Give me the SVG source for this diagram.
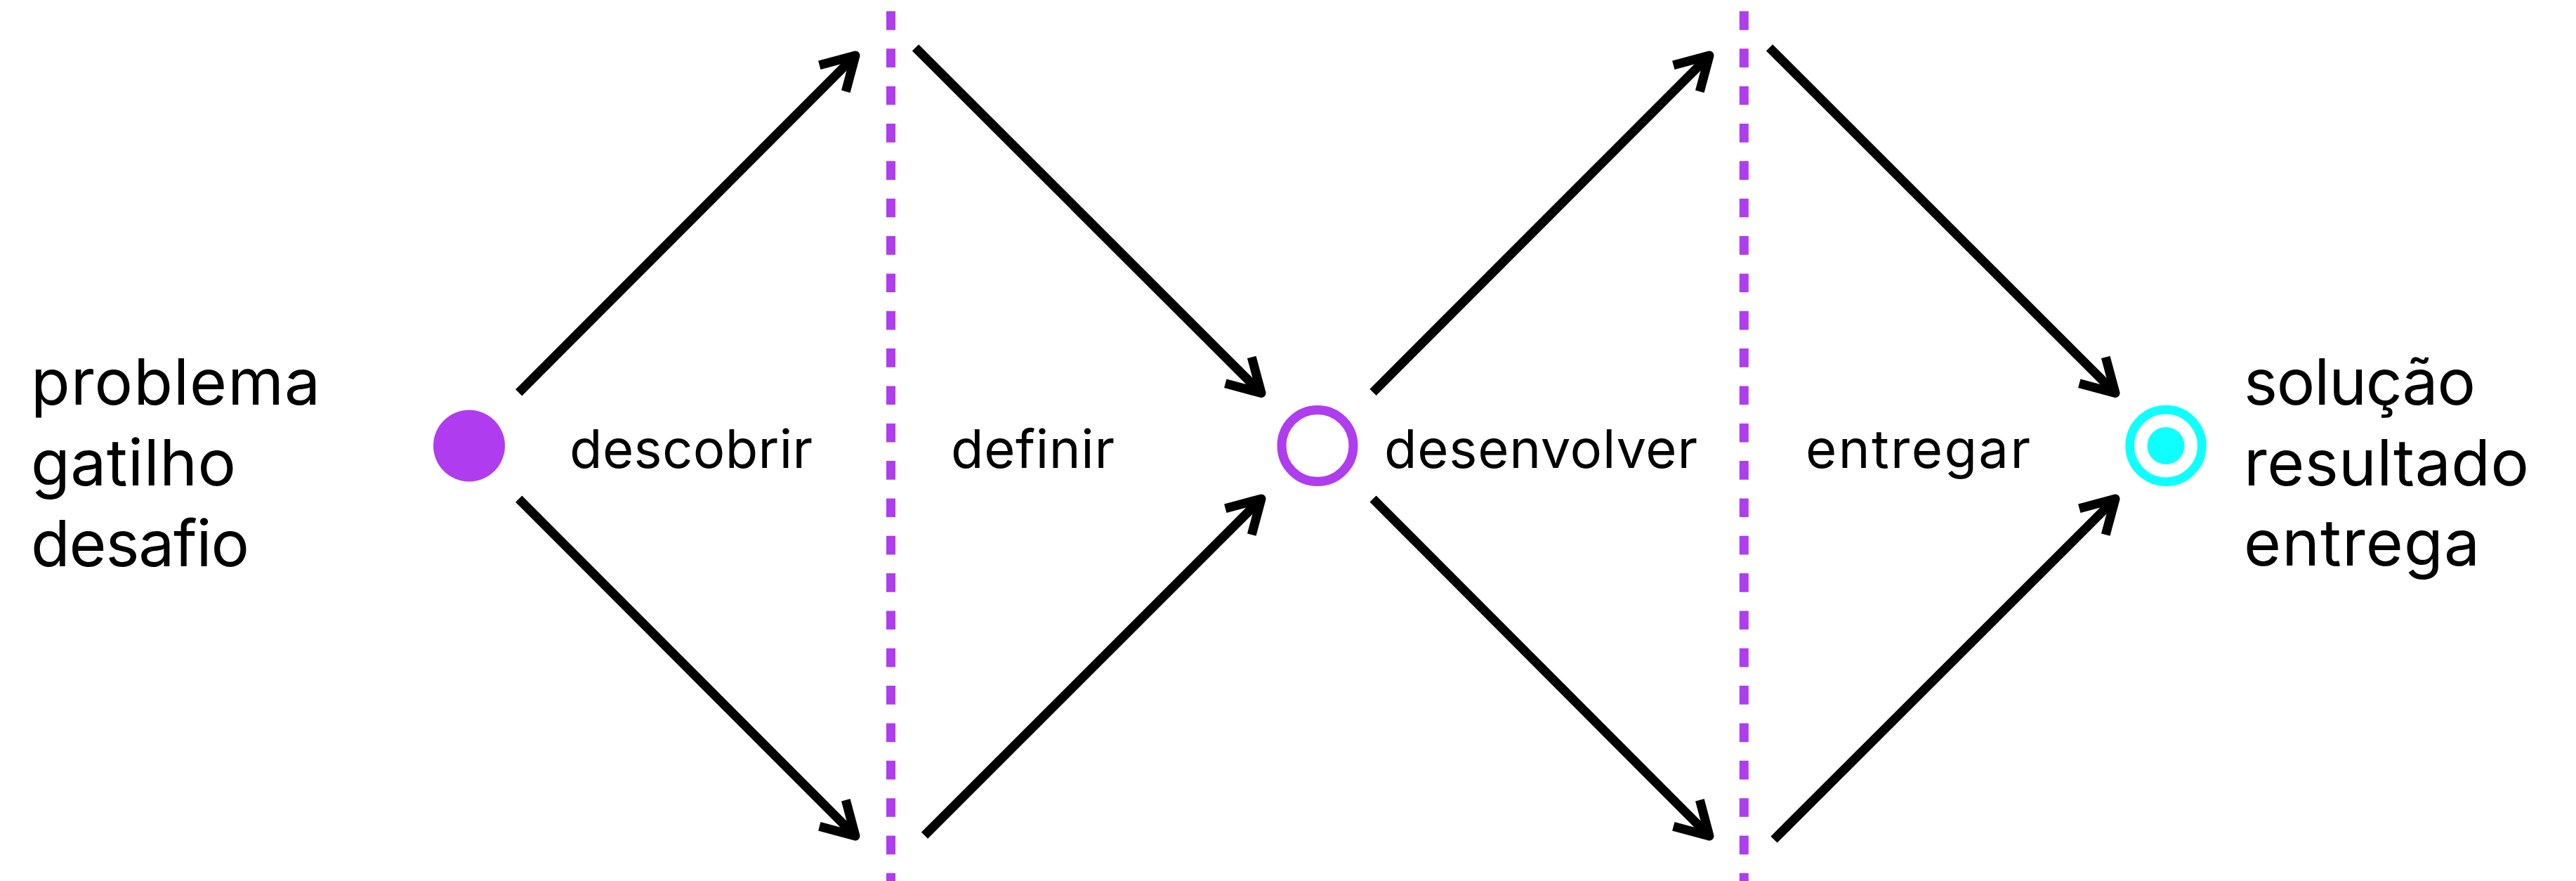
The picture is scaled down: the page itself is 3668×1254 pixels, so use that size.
<svg xmlns="http://www.w3.org/2000/svg" width="3668" height="1254" viewBox="0 0 3668 1254">
<style>
.bg{fill:#ffffff}
.edge{stroke:#000000;stroke-width:13;fill:none;stroke-linecap:butt}
.divider{stroke:#AF3DEF;stroke-width:13;stroke-dasharray:26.67 26.67;fill:none}
.big{font-family:Inter,"Noto Sans","DejaVu Sans",sans-serif;font-size:91px;fill:#000000}
.mid{font-family:Inter,"Noto Sans","DejaVu Sans",sans-serif;font-size:76px;fill:#000000}
</style>
<defs>
<marker id="arrow" markerUnits="userSpaceOnUse" orient="auto" refX="0" refY="0" markerWidth="1" markerHeight="1" overflow="visible">
<path d="M-45.9,-26.5 L0,0 L-45.9,26.5" fill="none" stroke="#000000" stroke-width="13" stroke-linejoin="round" stroke-linecap="butt"/>
</marker>
</defs>
<rect class="bg" x="0" y="0" width="3668" height="1254"/>
<g id="dividers">
<line class="divider" x1="1268.5" y1="16" x2="1268.5" y2="1270"/>
<line class="divider" x1="2483.3" y1="16" x2="2483.3" y2="1270"/>
</g>
<g id="connectors">
<line class="edge" x1="738.7" y1="558.8" x2="1218" y2="79" marker-end="url(#arrow)"/>
<line class="edge" x1="738.7" y1="710.2" x2="1218" y2="1190" marker-end="url(#arrow)"/>
<line class="edge" x1="1303.5" y1="67.8" x2="1796" y2="559.5" marker-end="url(#arrow)"/>
<line class="edge" x1="1316.5" y1="1189.2" x2="1796" y2="710" marker-end="url(#arrow)"/>
<line class="edge" x1="1955" y1="558.3" x2="2434" y2="79" marker-end="url(#arrow)"/>
<line class="edge" x1="1955" y1="710" x2="2434" y2="1190" marker-end="url(#arrow)"/>
<line class="edge" x1="2519.5" y1="67.8" x2="3012" y2="559.5" marker-end="url(#arrow)"/>
<line class="edge" x1="2526" y1="1195" x2="3012" y2="710" marker-end="url(#arrow)"/>
</g>
<g id="node-start">
<text class="big" x="44" y="576" textLength="412">problema</text>
<text class="big" x="44" y="691" textLength="292">gatilho</text>
<text class="big" x="44" y="806" textLength="311">desafio</text>
<circle cx="668" cy="634.5" r="51" fill="#AF3DEF"/>
</g>
<g id="label-descobrir"><text class="mid" x="811" y="666" textLength="346">descobrir</text></g>
<g id="label-definir"><text class="mid" x="1354" y="666" textLength="233">definir</text></g>
<g id="node-middle">
<circle cx="1876" cy="634.5" r="51" fill="none" stroke="#AF3DEF" stroke-width="13"/>
</g>
<g id="label-desenvolver"><text class="mid" x="1971" y="666" textLength="446">desenvolver</text></g>
<g id="label-entregar"><text class="mid" x="2571" y="666" textLength="320">entregar</text></g>
<g id="node-end">
<circle cx="3084" cy="634.5" r="51.3" fill="none" stroke="#0FFFFF" stroke-width="12.7"/>
<circle cx="3084" cy="634.5" r="26.5" fill="#0FFFFF"/>
<text class="big" x="3195" y="576" textLength="330">solução</text>
<text class="big" x="3195" y="691" textLength="406">resultado</text>
<text class="big" x="3195" y="805" textLength="336">entrega</text>
</g>
</svg>
